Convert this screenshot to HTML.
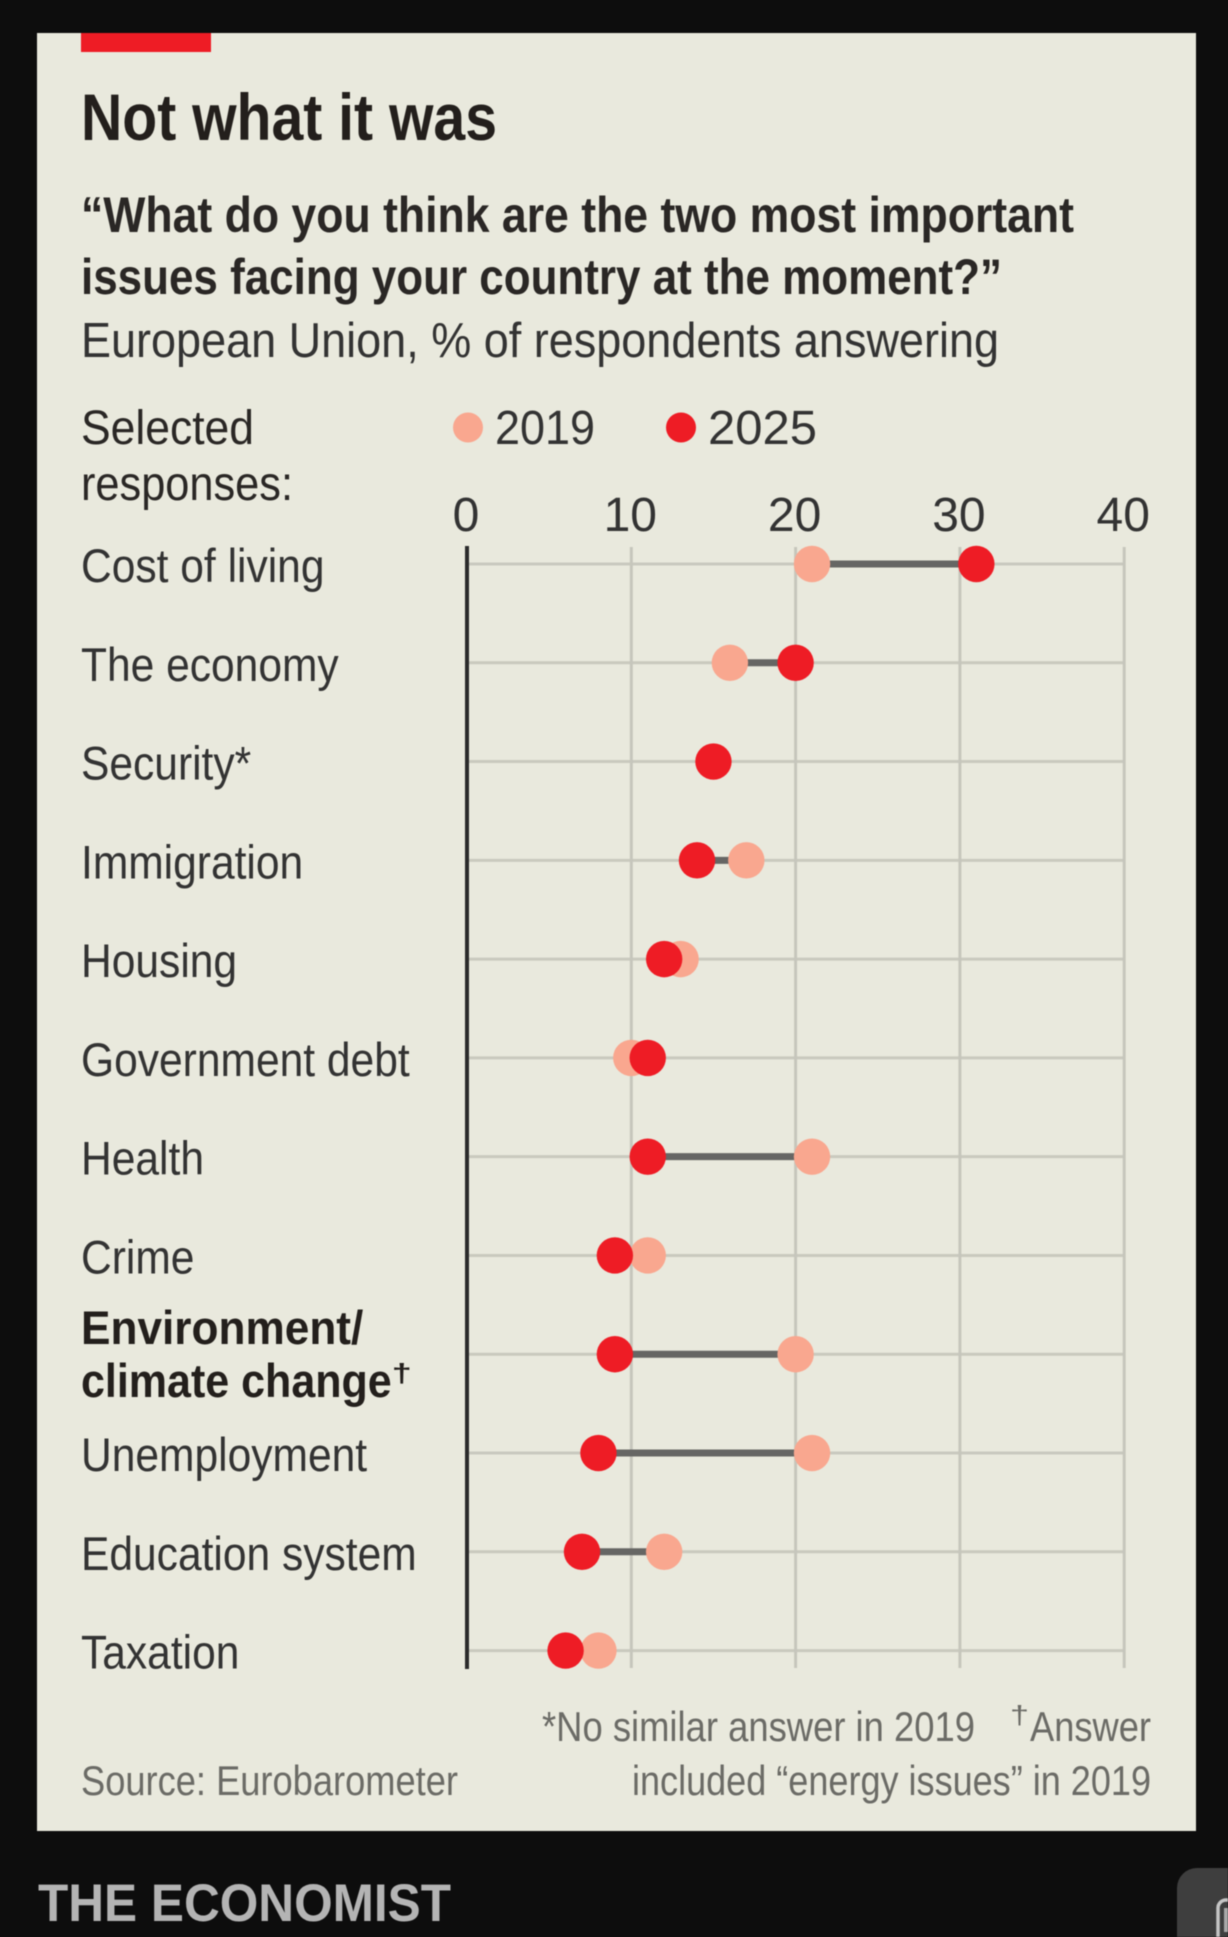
<!DOCTYPE html>
<html lang="en">
<head>
<meta charset="utf-8">
<title>Not what it was</title>
<style>
html,body{margin:0;padding:0;background:#0d0d0d;}
body{width:1228px;height:1937px;overflow:hidden;}
svg{display:block;filter:blur(0.6px);}
text{font-family:"Liberation Sans",sans-serif;}
</style>
</head>
<body>
<svg id="chart" xmlns="http://www.w3.org/2000/svg" width="1228" height="1937" viewBox="0 0 1228 1937">
  <rect x="0" y="0" width="1228" height="1937" fill="#0d0d0d"/>
  <rect x="37" y="33" width="1159" height="1798" fill="#e9e9dd"/>
  <rect x="81" y="33" width="130" height="19" fill="#ee1c25"/>

  <text x="81" y="140" font-size="66" font-weight="700" fill="#231f1c" textLength="416" lengthAdjust="spacingAndGlyphs">Not what it was</text>
  <text x="81" y="232" font-size="50" font-weight="700" fill="#2a2725" textLength="993" lengthAdjust="spacingAndGlyphs">“What do you think are the two most important</text>
  <text x="81" y="294" font-size="50" font-weight="700" fill="#2a2725" textLength="921" lengthAdjust="spacingAndGlyphs">issues facing your country at the moment?”</text>
  <text x="81" y="357" font-size="49" fill="#333" textLength="918" lengthAdjust="spacingAndGlyphs">European Union, % of respondents answering</text>

  <text x="81" y="444" font-size="48" fill="#2a2725" textLength="173" lengthAdjust="spacingAndGlyphs">Selected</text>
  <text x="81" y="500" font-size="48" fill="#2a2725" textLength="212" lengthAdjust="spacingAndGlyphs">responses:</text>

  <g>
    <circle cx="468" cy="427.5" r="15" fill="#f9a78f"/>
    <text x="495" y="444" font-size="48" fill="#333" textLength="100" lengthAdjust="spacingAndGlyphs">2019</text>
    <circle cx="681" cy="427.5" r="15" fill="#ee1c25"/>
    <text x="708" y="444" font-size="48" fill="#333" textLength="109" lengthAdjust="spacingAndGlyphs">2025</text>
  </g>

  <g id="plot"></g>

  <text x="542" y="1741" font-size="42" fill="#6b6b66" textLength="433" lengthAdjust="spacingAndGlyphs">*No similar answer in 2019</text>
  <text x="1010" y="1724" font-size="26" fill="#6b6b66" textLength="19" lengthAdjust="spacingAndGlyphs">†</text>
  <text x="1030" y="1741" font-size="42" fill="#6b6b66" textLength="121" lengthAdjust="spacingAndGlyphs">Answer</text>
  <text x="81" y="1795" font-size="42" fill="#6b6b66" textLength="377" lengthAdjust="spacingAndGlyphs">Source: Eurobarometer</text>
  <text x="632" y="1795" font-size="42" fill="#6b6b66" textLength="519" lengthAdjust="spacingAndGlyphs">included “energy issues” in 2019</text>

  <text x="38" y="1921" font-size="53" font-weight="700" fill="#b4b4b4" textLength="413" lengthAdjust="spacingAndGlyphs">THE ECONOMIST</text>

  <g>
    <rect x="1177" y="1868" width="80" height="90" rx="20" fill="#3e3e3e"/>
    <rect x="1218" y="1900" width="30" height="50" rx="8" fill="none" stroke="#c4c4c4" stroke-width="3.5"/>
    <rect x="1224" y="1908" width="8" height="24" fill="#a8a8a8"/>
  </g>
</svg>
<script>
// Chart data
const categories = ['Cost of living', 'The economy', 'Security*', 'Immigration', 'Housing', 'Government debt', 'Health', 'Crime', 'Environment/|climate change†', 'Unemployment', 'Education system', 'Taxation'];
const values2019 = [21, 16, null, 17, 13, 10, 21, 11, 20, 21, 12, 8];
const values2025 = [31, 20, 15, 14, 12, 11, 11, 9, 9, 8, 7, 6];
const xTickValues = [0, 10, 20, 30, 40];
const highlightedCategory = 'Environment/|climate change†';

const NS = 'http://www.w3.org/2000/svg';
const plot = document.getElementById('plot');
const xAxis = { left: 467, unit: 16.43, min: 0 };
const yAxis = { top: 564, step: 98.78 };
const plotTop = 547;
const plotBottom = 1668;
const xScale = v => xAxis.left + (v - xAxis.min) * xAxis.unit;
const yScale = i => yAxis.top + i * yAxis.step;

function make(tag, attrs, parent) {
  const el = document.createElementNS(NS, tag);
  for (const k in attrs) el.setAttribute(k, attrs[k]);
  (parent || plot).appendChild(el);
  return el;
}
function condense(el, factor) {
  const len = el.getComputedTextLength();
  const target = len * factor;
  el.setAttribute('textLength', target.toFixed(1));
  el.setAttribute('lengthAdjust', 'spacingAndGlyphs');
  return target;
}

const xMax = xTickValues[xTickValues.length - 1];

// Horizontal gridlines
categories.forEach((c, i) => {
  const line = make('line', { x1: xScale(0), x2: xScale(xMax), y1: yScale(i), y2: yScale(i), stroke: '#c9c9be', 'stroke-width': 3 });
  
  
});

// Vertical gridlines and tick labels
xTickValues.forEach(t => {
  if (t !== xTickValues[0]) {
    const grid = make('line', { x1: xScale(t), x2: xScale(t), y1: plotTop, y2: plotBottom, stroke: '#c6c6bc', 'stroke-width': 3 });
    
    
  }
  const label = make('text', { x: xScale(t) - 1, y: 531, 'font-size': 48, fill: '#333', 'text-anchor': 'middle' });
  label.textContent = String(t);
  
  
});

// Zero axis
const zeroAxis = make('line', { x1: xScale(0), x2: xScale(0), y1: plotTop - 1, y2: plotBottom + 1, stroke: '#2b2b2b', 'stroke-width': 4 });



// Row labels
categories.forEach((c, i) => {
  const lines = c.split('|');
  const bold = c === highlightedCategory;
  lines.forEach((raw, j) => {
    const hasDagger = raw.endsWith('†');
    const text = hasDagger ? raw.slice(0, -1) : raw;
    const baseline = bold ? yScale(i) + (j === 0 ? -10 : 43) : yScale(i) + 18;
    const label = make('text', { x: 81, y: baseline, 'font-size': 47, 'font-weight': bold ? 700 : 400, fill: bold ? '#231f1c' : '#333' });
    label.textContent = text;
    
    
    const width = condense(label, bold ? (hasDagger ? 0.915 : 0.94) : 0.905);
    if (hasDagger) {
      const dagger = make('text', { x: 81 + width, y: baseline - 15, 'font-size': 26, 'font-weight': 700, fill: '#231f1c', textLength: 20, lengthAdjust: 'spacingAndGlyphs' });
      dagger.textContent = '†';
      
      
    }
  });
});

// Connectors and dots
categories.forEach((c, i) => {
  const a = values2019[i];
  const b = values2025[i];
  const y = yScale(i);
  if (a !== null && b !== null) {
    const connector = make('line', { x1: xScale(a), x2: xScale(b), y1: y, y2: y, stroke: '#666664', 'stroke-width': 7 });
    
    
  }
  if (a !== null) {
    const dotA = make('circle', { cx: xScale(a), cy: y, r: 18.2, fill: '#f9a78f' });
    
    
  }
  if (b !== null) {
    const dotB = make('circle', { cx: xScale(b), cy: y, r: 18.2, fill: '#ee1c25' });
    
    
  }
});
</script>
</body>
</html>
